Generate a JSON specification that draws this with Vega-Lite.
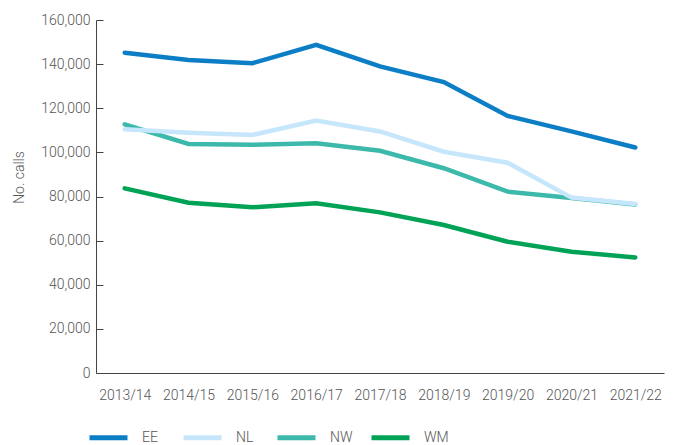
{
  "$schema": "https://vega.github.io/schema/vega-lite/v6.json",
  "width": 568,
  "height": 353,
  "autosize": {"type": "none"},
  "padding": {"left": 96, "top": 20, "right": 24, "bottom": 72},
  "background": "white",
  "config": {
    "view": {"stroke": null},
    "font": "Roboto",
    "axis": {"labelFont": "Roboto", "labelFontWeight": 300, "labelFontSize": 14, "labelColor": "#555555", "titleFont": "Roboto", "titleFontWeight": 300, "titleFontSize": 14, "titleColor": "#555555", "domainColor": "#444444", "tickColor": "#444444", "grid": false},
    "legend": {"labelFont": "Roboto", "labelFontWeight": 300, "labelFontSize": 14, "labelColor": "#555555"}
  },
  "data": {
    "values": [
      {"year": "2013/14", "region": "EE", "calls": 145200},
      {"year": "2014/15", "region": "EE", "calls": 141900},
      {"year": "2015/16", "region": "EE", "calls": 140400},
      {"year": "2016/17", "region": "EE", "calls": 148700},
      {"year": "2017/18", "region": "EE", "calls": 139000},
      {"year": "2018/19", "region": "EE", "calls": 131900},
      {"year": "2019/20", "region": "EE", "calls": 116500},
      {"year": "2020/21", "region": "EE", "calls": 109500},
      {"year": "2021/22", "region": "EE", "calls": 102200},
      {"year": "2013/14", "region": "WM", "calls": 83700},
      {"year": "2014/15", "region": "WM", "calls": 77200},
      {"year": "2015/16", "region": "WM", "calls": 75100},
      {"year": "2016/17", "region": "WM", "calls": 76900},
      {"year": "2017/18", "region": "WM", "calls": 72800},
      {"year": "2018/19", "region": "WM", "calls": 67100},
      {"year": "2019/20", "region": "WM", "calls": 59500},
      {"year": "2020/21", "region": "WM", "calls": 55000},
      {"year": "2021/22", "region": "WM", "calls": 52400},
      {"year": "2013/14", "region": "NW", "calls": 112700},
      {"year": "2014/15", "region": "NW", "calls": 103800},
      {"year": "2015/16", "region": "NW", "calls": 103400},
      {"year": "2016/17", "region": "NW", "calls": 104100},
      {"year": "2017/18", "region": "NW", "calls": 100700},
      {"year": "2018/19", "region": "NW", "calls": 92800},
      {"year": "2019/20", "region": "NW", "calls": 82200},
      {"year": "2020/21", "region": "NW", "calls": 79300},
      {"year": "2021/22", "region": "NW", "calls": 76400},
      {"year": "2013/14", "region": "NL", "calls": 110500},
      {"year": "2014/15", "region": "NL", "calls": 108900},
      {"year": "2015/16", "region": "NL", "calls": 107900},
      {"year": "2016/17", "region": "NL", "calls": 114400},
      {"year": "2017/18", "region": "NL", "calls": 109500},
      {"year": "2018/19", "region": "NL", "calls": 100300},
      {"year": "2019/20", "region": "NL", "calls": 95300},
      {"year": "2020/21", "region": "NL", "calls": 79500},
      {"year": "2021/22", "region": "NL", "calls": 76600}
    ]
  },
  "mark": {"type": "line", "strokeWidth": 4.5, "strokeCap": "round"},
  "encoding": {
    "x": {
      "field": "year", "type": "ordinal", "sort": null,
      "scale": {"type": "point", "padding": 0.45},
      "axis": {"title": null, "labelAngle": 0, "ticks": false, "labelPadding": 15, "domainWidth": 1}
    },
    "y": {
      "field": "calls", "type": "quantitative",
      "scale": {"domain": [0, 160000], "nice": false},
      "axis": {"title": "No. calls", "values": [0, 20000, 40000, 60000, 80000, 100000, 120000, 140000, 160000], "format": ",.0f", "tickSize": -7, "labelPadding": 13, "titleX": -77, "titleY": 157, "titleAlign": "center", "titleBaseline": "middle", "titleAngle": -90}
    },
    "color": {
      "field": "region", "type": "nominal",
      "scale": {"domain": ["EE", "NL", "NW", "WM"], "range": ["#0b7ec5", "#c6e6fb", "#3cb9aa", "#00a256"]},
      "legend": {"title": null, "orient": "none", "legendX": -9, "legendY": 396, "direction": "horizontal", "columns": 4, "gridAlign": "all", "symbolType": "stroke", "symbolSize": 1444, "symbolStrokeWidth": 5, "labelOffset": 12, "columnPadding": 6}
    }
  }
}
